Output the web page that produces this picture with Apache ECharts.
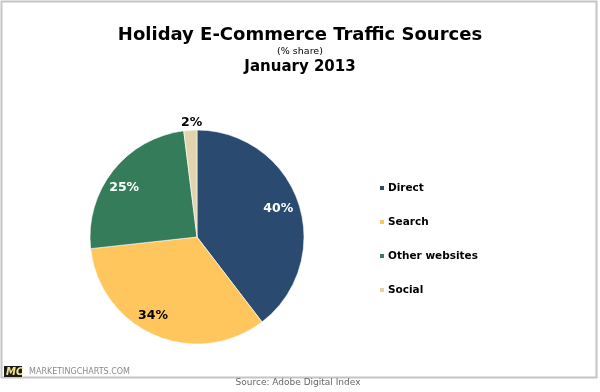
<!DOCTYPE html>
<html>
<head>
<meta charset="utf-8">
<script src="https://cdn.jsdelivr.net/npm/echarts@6/dist/echarts.min.js"></script>
<style>
html,body{margin:0;padding:0;background:#fff;}
#chart{width:600px;height:392px;}
</style>
</head>
<body>
<div id="chart"></div>
<script>
var categories = ['Direct', 'Search', 'Other websites', 'Social'];
var values = [40, 34, 25, 2];
var labelTexts = ['40%', '34%', '25%', '2%'];
var colors = ['#2a4a6f', '#fec65c', '#357c5a', '#e2d4ae'];
var labelColors = ['#ffffff', '#000000', '#ffffff', '#000000'];

var FONT = 'DejaVu Sans';
var chart = echarts.init(document.getElementById('chart'), null, {renderer: 'canvas'});

// label nudges (style only), keyed by category
var labelNudge = {'Direct': [-3, 0], 'Search': [-9, -3], 'Other websites': [-3, 6], 'Social': [17, -5]};

var pieData = categories.map(function (c, i) {
  return {name: c, value: values[i], itemStyle: {color: colors[i]}};
});
var ringData = categories.map(function (c, i) {
  var outside = values[i] < 5;
  return {
    name: c,
    value: values[i],
    itemStyle: {color: 'rgba(0,0,0,0)', borderWidth: 0},
    label: {
      show: true,
      formatter: labelTexts[i],
      color: labelColors[i],
      position: outside ? 'outside' : 'inside',
      offset: labelNudge[c],
      fontFamily: FONT, fontWeight: 'bold', fontSize: 12.5
    },
    labelLine: {show: false, length: 2, length2: 0}
  };
});

chart.setOption({
  animation: false,
  backgroundColor: '#fff',
  title: [
    {text: 'Holiday E-Commerce Traffic Sources', left: 'center', top: 21,
     textStyle: {fontFamily: FONT, fontWeight: 'bold', fontSize: 18, color: '#000'}},
    {text: '(% share)', left: 'center', top: 42,
     textStyle: {fontFamily: FONT, fontWeight: 'normal', fontSize: 9.5, color: '#000'}},
    {text: 'January 2013', left: 'center', top: 55,
     textStyle: {fontFamily: FONT, fontWeight: 'bold', fontSize: 15, color: '#000'}}
  ],
  legend: {
    orient: 'vertical', left: 373, top: 176,
    icon: 'rect', itemWidth: 6, itemHeight: 6, itemGap: 20,
    data: categories,
    textStyle: {fontFamily: FONT, fontWeight: 'bold', fontSize: 10.5, color: '#000', lineHeight: 14, padding: [0, 0, 0, -2]},
    selectedMode: false
  },
  graphic: [
    {type: 'rect', shape: {x: 1.5, y: 1.5, width: 595, height: 376}, style: {fill: 'none', stroke: '#c4c4c4', lineWidth: 2}, silent: true},
    {type: 'rect', shape: {x: 4, y: 366, width: 18, height: 11}, style: {fill: '#1a1a1a'}},
    {type: 'text', x: 6, y: 367, style: {text: 'MC', fill: '#f2e68a', font: 'italic bold 10px ' + FONT}},
    {type: 'text', x: 29, y: 368, style: {text: 'MARKETINGCHARTS.COM', fill: '#8a8a8a', font: '8px ' + FONT}},
    {type: 'text', x: 298, y: 378, style: {text: 'Source: Adobe Digital Index', fill: '#666', font: '9px ' + FONT, textAlign: 'center'}}
  ],
  series: [
    {
      type: 'pie', center: [197, 237], radius: [0, 107],
      startAngle: 90, clockwise: true, silent: true,
      label: {show: false}, labelLine: {show: false},
      itemStyle: {borderColor: '#ffffff', borderWidth: 0.6},
      data: pieData
    },
    {
      type: 'pie', center: [197, 237], radius: [65, 107],
      startAngle: 90, clockwise: true, silent: true,
      legendHoverLink: false,
      data: ringData,
      z: 3
    }
  ]
});
</script>
</body>
</html>
